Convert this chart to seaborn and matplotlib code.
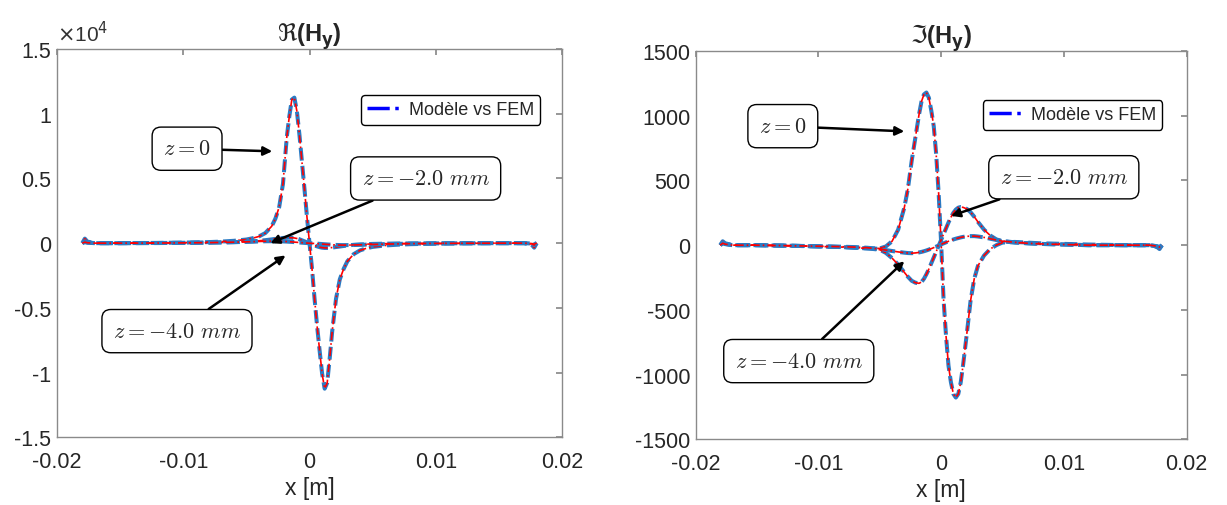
import pandas as pd
import seaborn as sns
import matplotlib.pyplot as plt
from matplotlib.lines import Line2D
from matplotlib.ticker import FuncFormatter

# === data (x in m) ===
x_pos = [-0.0180, -0.0178, -0.0176, -0.0170, -0.0150, -0.0120, -0.0100, -0.0080, -0.0070,
         -0.0060, -0.0050, -0.0045, -0.0040, -0.0035, -0.0030, -0.0027, -0.0024, -0.0021,
         -0.0018, -0.0016, -0.0014, -0.0012, -0.0010, -0.0008, -0.0006, -0.0004, -0.0002,
         0.0,
         0.0002, 0.0004, 0.0006, 0.0008, 0.0010, 0.0012, 0.0014, 0.0016, 0.0018,
         0.0021, 0.0024, 0.0027, 0.0030, 0.0035, 0.0040, 0.0045, 0.0050, 0.0060,
         0.0070, 0.0080, 0.0100, 0.0120, 0.0150, 0.0170, 0.0176, 0.0178, 0.0180]

# Re(Hy)
re_z0 = [0, 350, 120, 0, 0, 20, 40, 80, 120,
         180, 280, 380, 520, 780, 1300, 1900, 2800, 4600,
         8200, 9800, 11100, 11250, 10200, 8400, 6300, 4200, 2000,
         0,
         -2000, -4300, -6400, -8300, -10100, -11250, -10800, -8900, -6800,
         -4300, -2800, -2000, -1400, -850, -560, -400, -290, -180,
         -120, -80, -40, -20, 0, 0, -120, -350, 0]
re_z2 = [0, 150, 60, 0, 0, 10, 20, 40, 60,
         80, 110, 140, 180, 230, 290, 330, 370, 400,
         420, 430, 420, 400, 360, 300, 220, 140, 60,
         -20,
         -100, -180, -250, -310, -350, -370, -370, -360, -340,
         -300, -260, -220, -180, -130, -100, -80, -60, -40,
         -30, -20, -10, 0, 0, 0, -60, -150, 0]
re_z4 = [0, 80, 30, 0, 0, 10, 20, 40, 55,
         75, 100, 115, 130, 145, 150, 150, 145, 135,
         120, 108, 95, 80, 65, 50, 35, 20, 8,
         -5,
         -15, -28, -40, -55, -70, -85, -100, -112, -125,
         -138, -148, -152, -150, -145, -130, -115, -100, -75,
         -55, -40, -20, -10, 0, 0, -30, -80, 0]

# Im(Hy)
im_z0 = [0, 30, 15, 0, 0, -5, -10, -15, -20,
         -25, -25, -10, 30, 120, 290, 440, 650, 830,
         1010, 1110, 1165, 1180, 1140, 1040, 920, 700, 400,
         20,
         -420, -700, -930, -1060, -1150, -1178, -1150, -1060, -920,
         -680, -430, -260, -160, -80, -30, 0, 20, 25,
         20, 15, 10, 5, 0, 0, -15, -30, 0]
im_z2 = [0, 20, 10, 0, 0, -5, -10, -15, -20,
         -25, -35, -60, -100, -150, -210, -245, -275, -290,
         -295, -285, -260, -225, -185, -140, -95, -50, -5,
         40,
         85, 130, 175, 215, 250, 275, 290, 295, 292,
         280, 255, 220, 180, 120, 75, 45, 30, 20,
         15, 10, 5, 0, 0, 0, -10, -20, 0]
im_z4 = [0, 15, 8, 0, 0, -5, -8, -12, -15,
         -20, -30, -38, -45, -52, -58, -61, -62, -60,
         -56, -52, -47, -41, -34, -27, -19, -11, -3,
         6,
         14, 22, 30, 37, 44, 50, 55, 60, 64,
         68, 70, 70, 67, 60, 50, 40, 32, 22,
         15, 10, 5, 0, 0, 0, -8, -15, 0]

x_ticks = [-0.02, -0.01, 0, 0.01, 0.02]
re_ticks = [-15000, -10000, -5000, 0, 5000, 10000, 15000]
im_ticks = [-1500, -1000, -500, 0, 500, 1000, 1500]
z_labels = ["z=0", "z=-2.0 mm", "z=-4.0 mm"]

# === style ===
sns.set_theme(style="white")
plt.rcParams["font.family"] = ["Liberation Sans", "DejaVu Sans"]
plt.rcParams["axes.unicode_minus"] = False

FEM_BLUE = "#2b7bc4"
MODEL_RED = "#ff0000"
SPINE = "#8a8a8a"


def make_frame(ys):
    rows = []
    for lab, y in zip(z_labels, ys):
        rows.append(pd.DataFrame({"x": x_pos, "H": y, "z": lab}))
    return pd.concat(rows, ignore_index=True)


def xfmt(v, p):
    return "0" if abs(v) < 1e-9 else f"{round(v, 4):g}"


def draw_panel(ax, data, ylim, yticks, yfmt, title, notes, leg_anchor):
    for lab in z_labels:
        d = data[data["z"] == lab]
        # FEM: thick blue dashes
        sns.lineplot(data=d, x="x", y="H", ax=ax, color=FEM_BLUE, linewidth=2.9,
                     sort=False, estimator=None, legend=False)
        ax.lines[-1].set_dashes((3.2, 1.3))
        # model: thin red dash-dot on top
        sns.lineplot(data=d, x="x", y="H", ax=ax, color=MODEL_RED, linewidth=1.2,
                     sort=False, estimator=None, legend=False)
        ax.lines[-1].set_linestyle((0, (5, 1.8, 1, 1.8)))

    ax.set_xlim(-0.02, 0.02)
    ax.set_ylim(*ylim)
    ax.set_xticks(x_ticks)
    ax.set_yticks(yticks)
    ax.xaxis.set_major_formatter(FuncFormatter(xfmt))
    ax.yaxis.set_major_formatter(FuncFormatter(yfmt))
    ax.tick_params(axis="both", direction="in", top=True, right=True, length=4,
                   color=SPINE, labelsize=15.5, labelcolor="#262626")
    ax.tick_params(axis="x", pad=10)
    ax.tick_params(axis="y", pad=4)
    for s in ax.spines.values():
        s.set_color(SPINE)
        s.set_linewidth(1.0)
    ax.set_xlabel("x [m]", fontsize=16.5, labelpad=3, color="#262626")
    ax.set_ylabel("")
    ax.set_title(title, fontsize=17, fontweight="bold", pad=6, math_fontfamily="dejavusans")

    for txt, tip, box in notes:
        ax.annotate(txt, xy=tip, xytext=box, ha="center", va="center", fontsize=16,
                    math_fontfamily="cm",
                    bbox=dict(boxstyle="round,pad=0.5,rounding_size=0.4", fc="white",
                              ec="black", lw=1.0),
                    arrowprops=dict(arrowstyle="-|>", color="black", lw=1.8,
                                    mutation_scale=13, shrinkA=0, shrinkB=0))

    handle = Line2D([], [], color="blue", linewidth=2.5, linestyle="-.")
    ax.legend([handle], ["Modèle vs FEM"], loc="upper right", bbox_to_anchor=leg_anchor,
              fontsize=13, frameon=True, fancybox=True, edgecolor="black",
              handlelength=2.0, handletextpad=0.3, borderpad=0.35, framealpha=1)


fig = plt.figure(figsize=(12.27, 5.06), dpi=100)
ax1 = fig.add_axes([0.0465, 0.134, 0.4115, 0.767])
ax2 = fig.add_axes([0.567, 0.130, 0.400, 0.767])

re_df = make_frame([re_z0, re_z2, re_z4])
im_df = make_frame([im_z0, im_z2, im_z4])

draw_panel(
    ax1, re_df, (-15000, 15000), re_ticks, lambda v, p: f"{v / 1e4:g}",
    r"$\Re$(H$_{\mathbf{y}}$)",
    [(r"$z=0$", (-0.00295, 7100), (-0.0097, 7300)),
     (r"$z=-2.0\ mm$", (-0.0031, 0), (0.0092, 5000)),
     (r"$z=-4.0\ mm$", (-0.0019, -950), (-0.0105, -6800))],
    (0.975, 0.905),
)
ax1.text(0.0, 1.01, r"$\times$10$^{4}$", transform=ax1.transAxes, fontsize=15,
         ha="left", va="bottom", math_fontfamily="dejavusans", color="#333333")

draw_panel(
    ax2, im_df, (-1500, 1500), im_ticks, lambda v, p: f"{v:g}",
    r"$\Im$(H$_{\mathbf{y}}$)",
    [(r"$z=0$", (-0.0030, 880), (-0.0129, 920)),
     (r"$z=-2.0\ mm$", (0.00081, 226), (0.0100, 525)),
     (r"$z=-4.0\ mm$", (-0.0030, -124), (-0.0116, -896))],
    (0.969, 0.897),
)

plt.savefig("out.png", dpi=100)
